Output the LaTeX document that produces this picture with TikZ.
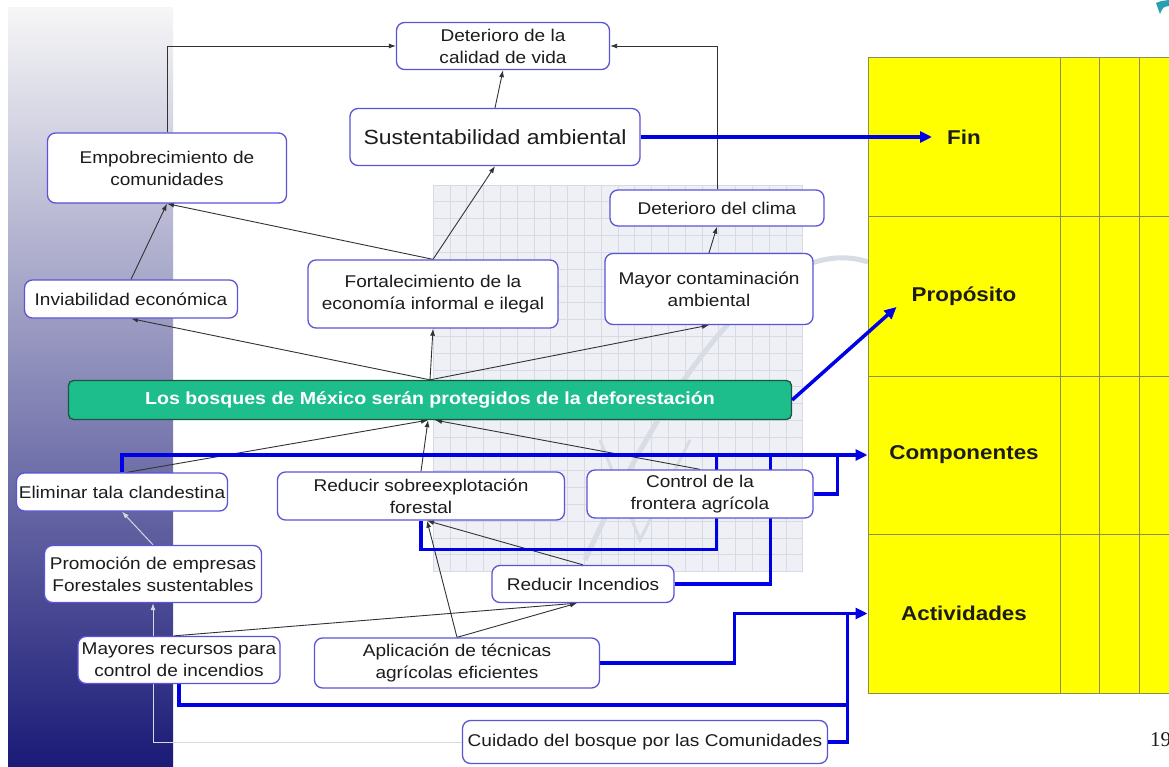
\documentclass[tikz,border=0pt]{standalone}
\usepackage{fontspec}
\setmainfont{Liberation Sans}[FakeStretch=1.12]
\newfontfamily\serifnum{Liberation Serif}
\usetikzlibrary{arrows.meta,calc}
\pgfdeclarelayer{bg}
\pgfdeclarelayer{edges}
\pgfsetlayers{bg,edges,main}
\definecolor{boxline}{RGB}{92,84,214}
\definecolor{txt}{RGB}{28,28,28}
\definecolor{bluel}{RGB}{0,0,230}
\definecolor{barfill}{RGB}{30,190,140}
\definecolor{barline}{RGB}{25,85,65}
\definecolor{tabline}{RGB}{140,140,90}
\definecolor{cellfill}{RGB}{255,255,0}
\definecolor{navy}{RGB}{26,26,120}
\definecolor{stripmid}{RGB}{168,168,192}
\definecolor{striptop}{RGB}{246,246,247}
\definecolor{gridfill}{RGB}{238,240,245}
\definecolor{gridline}{RGB}{214,218,228}
\definecolor{swoosh}{RGB}{216,220,228}
\definecolor{thinline}{RGB}{50,50,50}
\definecolor{pale}{RGB}{215,215,230}
\definecolor{logo}{RGB}{40,160,180}
\begin{document}
\begin{tikzpicture}[x=1pt,y=-1pt,
  box/.style={draw=boxline, line width=1.3pt, rounded corners=8pt, fill=white,
    align=center, inner sep=2pt, text=txt, font=\fontsize{17}{22}\selectfont},
  cell/.style={draw=tabline, line width=1pt, fill=cellfill, inner sep=0pt,
    minimum width=192, text=txt, font=\fontsize{20}{24}\selectfont\bfseries},
  cause/.style={draw=thinline, line width=0.9pt, -{Latex[length=7pt,width=5pt]}},
  paleline/.style={draw=pale, line width=1pt, -{Latex[length=7pt,width=5pt]}},
  bl/.style={draw=bluel, line width=3.5pt},
  blarrow/.style={bl, -{Triangle[length=12pt,width=11pt]}},
]
\useasboundingbox (0,0) rectangle (1169,767);

% ---------- background ----------
\begin{pgfonlayer}{bg}
\fill[white] (0,0) rectangle (1169,767);
\shade[top color=striptop, middle color=stripmid, bottom color=navy] (8,8) rectangle (173,767);
\fill[gridfill] (433,185) rectangle (803,572);
\foreach \gx in {0,...,22} \draw[gridline, line width=0.6pt] (433+\gx*16.8,185) -- (433+\gx*16.8,572);
\foreach \gy in {0,...,23} \draw[gridline, line width=0.6pt] (433,185+\gy*16.8) -- (803,185+\gy*16.8);
\draw[swoosh, line width=5pt] (868,262) .. controls (790,236) and (690,330) .. (585,560);
\draw[swoosh, line width=3pt] (600,440) -- (640,540) -- (690,440);
\fill[logo] (1156,3) .. controls (1161,1) .. (1169,0) -- (1169,6) .. controls (1163,7) .. (1160,14) -- cycle;
% yellow table
\fill[cellfill] (868,58) rectangle (1175,693);
\draw[tabline, line width=1pt] (868,58) rectangle (1175,693);
\foreach \cx in {1060,1099,1139} \draw[tabline, line width=1pt] (\cx,58) -- (\cx,693);
\foreach \cy in {217,376,534} \draw[tabline, line width=1pt] (868,\cy) -- (1175,\cy);
\end{pgfonlayer}

% ---------- table label cells ----------
\node[cell, minimum height=159] (fin)  at (964,137.5) {Fin};
\node[cell, minimum height=159] (prop) at (964,296.5) {Propósito};
\node[cell, minimum height=158] (comp) at (964,455)   {Componentes};
\node[cell, minimum height=159] (act)  at (964,613.5) {Actividades};
\node[anchor=west, inner sep=0pt, text=txt, font=\serifnum\fontsize{21}{24}\selectfont] (num) at (1150,740) {19};

% ---------- boxes ----------
\node[box, minimum width=213, minimum height=47] (dcv) at (503,46) {Deterioro de la\\calidad de vida};
\node[box, minimum width=290, minimum height=57, font=\fontsize{20.5}{24}\selectfont] (sus) at (495,137) {Sustentabilidad ambiental};
\node[box, minimum width=239, minimum height=70] (emp) at (167,168) {Empobrecimiento de\\comunidades};
\node[box, minimum width=214, minimum height=36] (dcl) at (717,208) {Deterioro del clima};
\node[box, minimum width=213, minimum height=38] (inv) at (131,299) {Inviabilidad económica};
\node[box, minimum width=250, minimum height=68] (fort) at (433,294) {Fortalecimiento de la\\economía informal e ilegal};
\node[box, minimum width=208, minimum height=71] (mayc) at (709,289) {Mayor contaminación\\ambiental};
\node[draw=barline, fill=barfill, rounded corners=5pt, line width=1.3pt, minimum width=723,
  minimum height=39, inner sep=0pt, text=white, font=\fontsize{17.5}{20}\selectfont\bfseries]
  (bar) at (430,400) {Los bosques de México serán protegidos de la deforestación};
\node[box, minimum width=211, minimum height=38] (elim) at (122,492) {Eliminar tala clandestina};
\node[box, minimum width=287, minimum height=48] (red) at (421,496) {Reducir sobreexplotación\\forestal};
\node[box, minimum width=226, minimum height=48] (ctrl) at (700,494) {Control de la\\frontera agrícola};
\node[box, minimum width=217, minimum height=57] (prom) at (153,574) {Promoción de empresas\\Forestales sustentables};
\node[box, minimum width=182, minimum height=37] (rinc) at (583,584) {Reducir Incendios};
\node[box, minimum width=202, minimum height=47] (mayr) at (179,660) {Mayores recursos para\\control de incendios};
\node[box, minimum width=285, minimum height=50] (apl) at (457,663) {Aplicación de técnicas\\agrícolas eficientes};
\node[box, minimum width=365, minimum height=43] (cui) at (645,742) {Cuidado del bosque por las Comunidades};

% ---------- connectors ----------
\begin{pgfonlayer}{edges}
% cause-effect (black)
\draw[cause] (emp.north) |- (dcv.west);
\draw[cause] (dcl.north) |- (dcv.east);
\draw[cause] (sus.north) -- (dcv.south);
\draw[cause] (fort.north) -- (sus.south);
\draw[cause] (fort.north) -- (emp.south);
\draw[cause] (inv.north) -- (emp.south);
\draw[cause] (mayc.north) -- (dcl.south);
\draw[cause] (bar.north) -- (inv.south);
\draw[cause] (bar.north) -- (fort.south);
\draw[cause] (bar.north) -- (mayc.south);
\draw[cause] ($(elim.north)+(5,0)$) -- ($(bar.south)+(-2,0)$);
\draw[cause] (red.north) -- ($(bar.south)+(-2,0)$);
\draw[cause] (ctrl.north) -- ($(bar.south)+(5,0)$);
\draw[cause] (rinc.north) -- ($(red.south)+(6,0)$);
\draw[cause] (apl.north) -- ($(red.south)+(6,0)$);
\draw[cause] (apl.north) -- ($(rinc.south)+(-6,0)$);
\draw[cause] ($(mayr.north)+(-5,0)$) -- ($(rinc.south)+(-6,0)$);
% pale connectors
\draw[paleline] (prom.north) -- (elim.south);
\draw[paleline] (cui.west) -| (prom.south);
% blue: matrix links
\draw[blarrow] (elim.north) |- (comp.west);
\draw[bl] (ctrl.east) -| ($(comp.west)+(-30,0)$);
\draw[bl] (red.south) -- ++(0,29) -| ($(comp.west)+(-151,0)$);
\draw[bl] (rinc.east) -| ($(comp.west)+(-97,0)$);
\draw[blarrow] (apl.east) -| ($(act.west)+(-133,0)$) -- (act.west);
\draw[bl] (cui.east) -| ($(act.west)+(-20,0)$);
\draw[bl] (mayr.south) -- ++(0,21) -| ($(act.west)+(-20,0)$);
\end{pgfonlayer}
% arrows that run into the yellow cells (drawn on top)
\draw[blarrow] (sus.east) -- ($(fin.center)+(-32,-0.5)$);
\draw[blarrow] (bar.east) -- ($(prop.west)+(29,10.5)$);
\end{tikzpicture}
\end{document}
